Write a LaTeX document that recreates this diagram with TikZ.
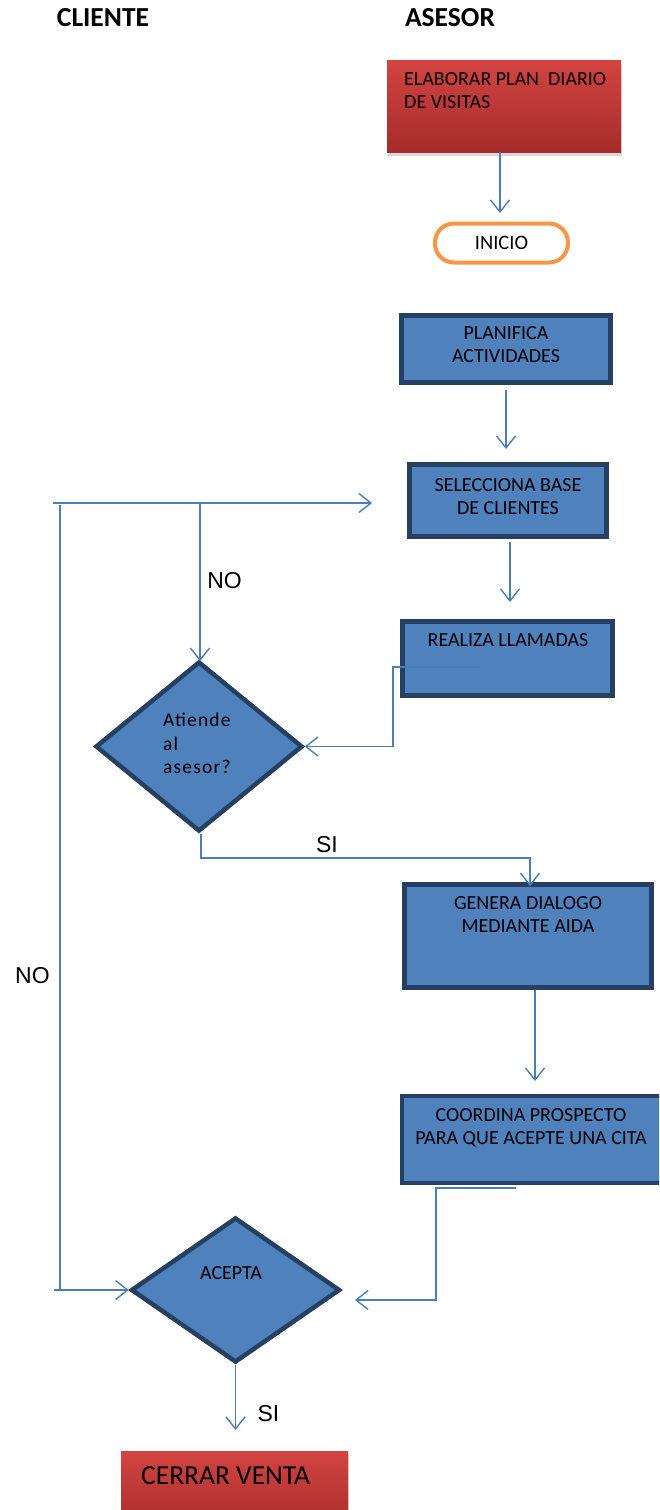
\documentclass[tikz,border=0pt]{standalone}
\usepackage{fontspec}
\setmainfont{Carlito}
\newfontfamily\arialf{Liberation Sans}
\usetikzlibrary{arrows.meta,shapes.geometric,shadows}

\definecolor{boxfill}{HTML}{4F81BD}
\definecolor{boxline}{HTML}{254061}
\definecolor{linkc}{HTML}{4A7EBB}
\definecolor{redtop}{HTML}{D24441}
\definecolor{redbot}{HTML}{A52C2C}
\definecolor{inicioc}{HTML}{F79646}

\tikzset{
  proc/.style={draw=boxline, line width=4.5pt, fill=boxfill, inner sep=0pt},
  decide/.style={diamond, draw=boxline, line width=4.5pt, fill=boxfill, inner sep=0pt},
  redbox/.style={inner sep=0pt, top color=redtop, bottom color=redbot,
    drop shadow={shadow xshift=1pt, shadow yshift=-4pt, opacity=0.3}},
  boxtxt/.style={inner sep=0pt, align=center, font=\fontsize{20}{23}\selectfont},
  lbl/.style={inner sep=0pt, font=\arialf\fontsize{23}{27}\selectfont},
  head/.style={inner sep=0pt, font=\bfseries\fontsize{27.5}{32}\selectfont},
  link/.style={draw=linkc, line width=1.4pt},
  flow/.style={link, -{Straight Barb[length=12pt,width=19pt]}}
}

\begin{document}
\begin{tikzpicture}[x=1pt,y=-1pt]
\useasboundingbox (0,0) rectangle (659,1510);
\clip (0,0) rectangle (659,1510);
\fill[white] (0,0) rectangle (659,1510);

% column headings
\node[head] (hcli) at (103,18) {CLIENTE};
\node[head] (hase) at (450,18) {ASESOR};

% advisor lane
\node[redbox, minimum width=234, minimum height=92] (plan) at (504,106) {};
\node[boxtxt, align=left, anchor=north west] (plan-t) at (404,72) {ELABORAR PLAN\ \ DIARIO\\DE VISITAS};

\node[draw=inicioc, line width=4pt, fill=white, rounded corners=19pt,
      minimum width=133, minimum height=39, inner sep=0pt,
      font=\fontsize{20.5}{24}\selectfont] (ini) at (501.5,243) {INICIO};

\node[proc, minimum width=209, minimum height=67] (pla) at (506,349) {};
\node[boxtxt, anchor=north] (pla-t) at (506,326) {PLANIFICA\\ACTIVIDADES};

\node[proc, minimum width=197, minimum height=72] (sel) at (508,500.5) {};
\node[boxtxt, anchor=north] (sel-t) at (508,478) {SELECCIONA BASE\\DE CLIENTES};

\node[proc, minimum width=210, minimum height=74] (rea) at (507.5,658.5) {};
\node[boxtxt, anchor=north] (rea-t) at (508,633) {REALIZA LLAMADAS};

\node[proc, minimum width=247, minimum height=103] (gen) at (528,936) {};
\node[boxtxt, anchor=north] (gen-t) at (528,896) {GENERA DIALOGO\\MEDIANTE AIDA};

\node[proc, minimum width=268, minimum height=87] (coo) at (536,1139.5) {};
\node[boxtxt, anchor=north] (coo-t) at (531,1108) {COORDINA PROSPECTO\\PARA QUE ACEPTE UNA CITA};

% client lane
\node[decide, minimum width=207, minimum height=170] (ate) at (199,746.5) {};
\node[boxtxt, align=left, anchor=north west,
      font=\addfontfeatures{LetterSpace=6}\fontsize{19.5}{23.5}\selectfont] (ate-t) at (163,713) {Atiende\\al\\asesor?};

\node[decide, minimum width=209, minimum height=145] (acep) at (235.5,1290) {};
\node[boxtxt, anchor=north] (acep-t) at (231,1266) {ACEPTA};

\node[redbox, minimum width=227, minimum height=80] (cerr) at (234.5,1491) {};
\node[inner sep=0pt, anchor=north west, font=\fontsize{27.5}{32}\selectfont] (cerr-t) at (141,1466) {CERRAR VENTA};

% connector corners
\coordinate (p1) at (500,152);
\coordinate (p2) at (500,213);
\coordinate (r1) at (480,667);
\coordinate (r2) at (393,667);
\coordinate (r3) at (393,746.5);
\coordinate (s1) at (201,858);
\coordinate (s2) at (530,858);
\coordinate (c1) at (516,1188);
\coordinate (c2) at (436,1188);
\coordinate (c3) at (436,1300);
\coordinate (c4) at (355,1300);
\coordinate (n1) at (53,503);
\coordinate (n2) at (372,503);
\coordinate (n3) at (200,503);
\coordinate (n4) at (60,505);
\coordinate (n5) at (60,1290);
\coordinate (n6) at (54,1290);

% connectors
\draw[flow] (p1) -- (p2);
\draw[flow] (506,390) -- (506,449);
\draw[flow] (510,542) -- (510,602);
\draw[flow] (r1) -- (r2) -- (r3) -- (ate.east);
\draw[flow] (ate.south -| 201,0) -- (s1) -- (s2) -- ([yshift=-4pt]gen.north -| s2);
\draw[flow] (535,990) -- (535,1081);
\draw[flow] (c1) -- (c2) -- (c3) -- (c4);
\draw[flow] (acep.south) -- (235.5,1430);
\draw[flow] (n1) -- (n2);
\draw[flow] (n3) -- ([yshift=-2pt]ate.north -| n3);
\draw[link] (n4) -- (n5);
\draw[flow] (n6) -- (acep.west);

% branch labels
\node[lbl] (no1) at (224.5,581) {NO};
\node[lbl] (no2) at (32.5,975.5) {NO};
\node[lbl] (si1) at (327,844.5) {SI};
\node[lbl] (si2) at (268.5,1414) {SI};
\end{tikzpicture}
\end{document}
